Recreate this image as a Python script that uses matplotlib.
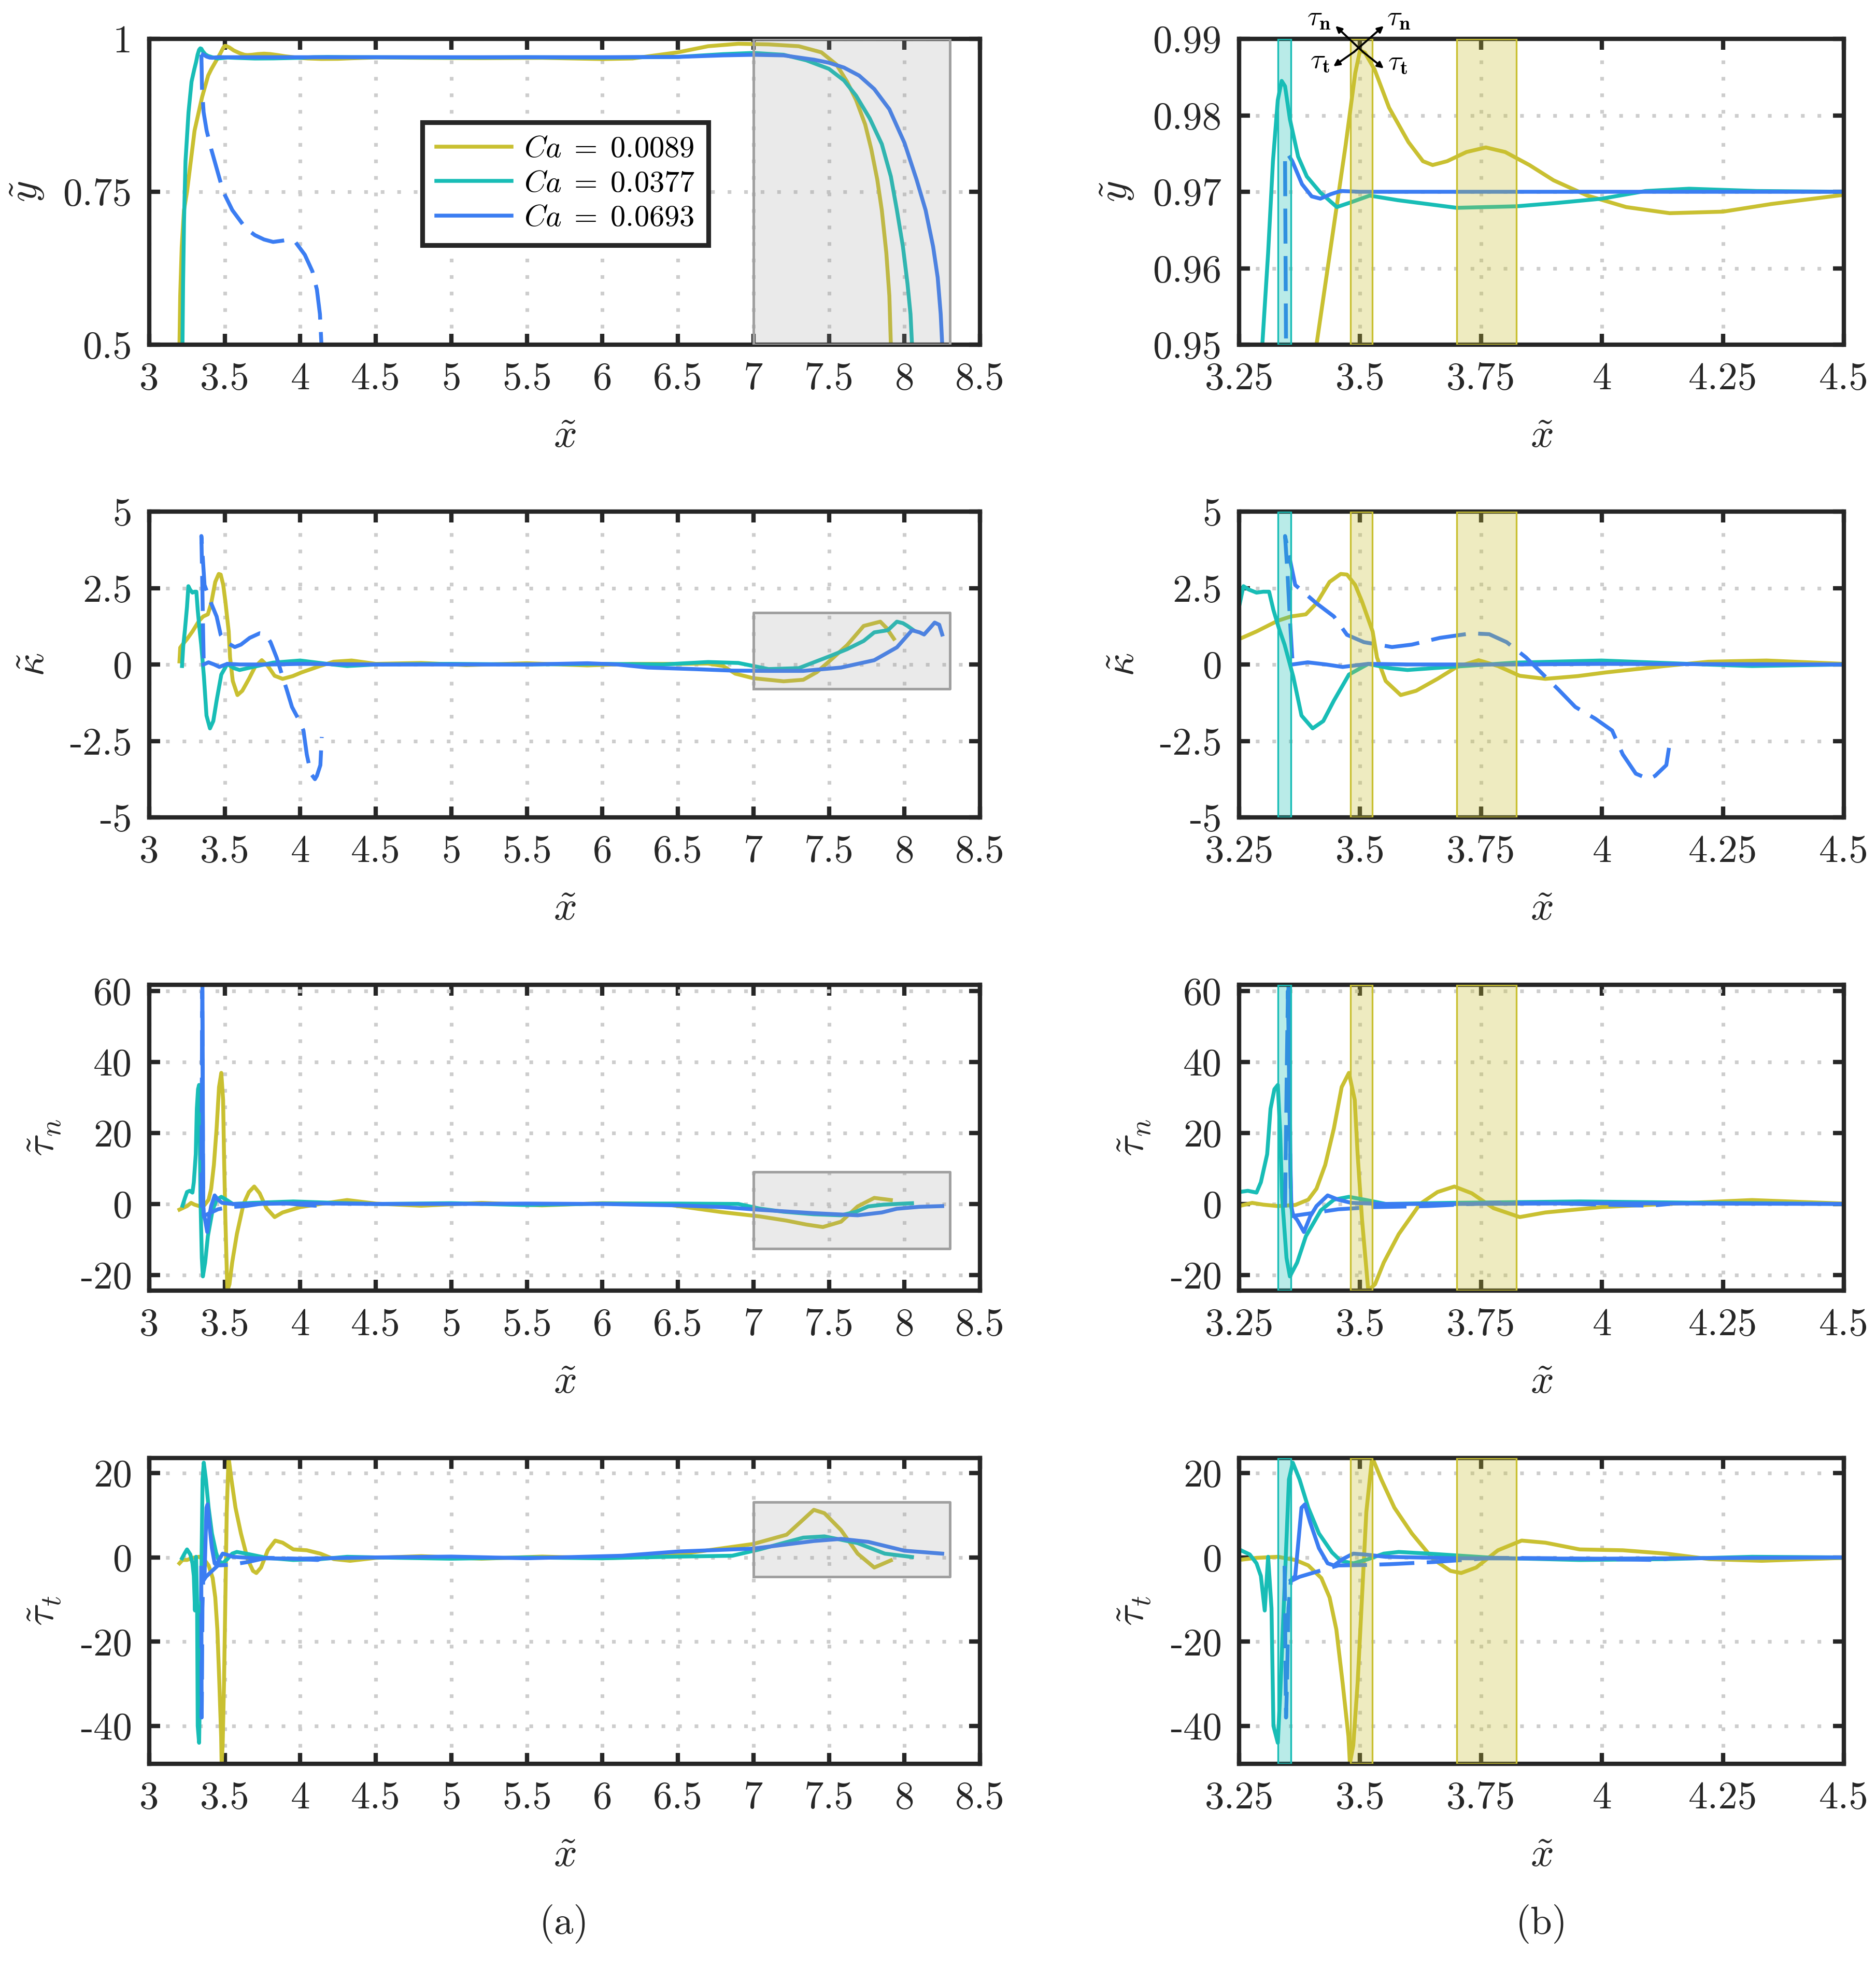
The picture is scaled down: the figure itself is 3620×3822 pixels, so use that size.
import matplotlib
matplotlib.use('Agg')
import matplotlib.pyplot as plt

plt.rcParams['font.family'] = 'serif'
plt.rcParams['font.serif'] = ['cmr10']
plt.rcParams['mathtext.fontset'] = 'cm'
plt.rcParams['axes.formatter.use_mathtext'] = True
plt.rcParams['axes.unicode_minus'] = False

# ---------------- data ----------------
ca_labels = [r'$Ca\;=\;0.0089$', r'$Ca\;=\;0.0377$', r'$Ca\;=\;0.0693$']

# interface height  y~
y_ca1_x = [3.200, 3.205, 3.215, 3.23, 3.25, 3.30, 3.35, 3.39, 3.41, 3.44, 3.47, 3.49, 3.50, 3.51, 3.53,
           3.56, 3.60, 3.63, 3.65, 3.68, 3.72, 3.76, 3.80, 3.85, 3.90, 3.97, 4.05, 4.14, 4.25, 4.35, 4.5,
           4.8, 5.2, 5.6, 6.0, 6.2, 6.5, 6.7, 6.9, 7.1, 7.3, 7.45, 7.55, 7.62, 7.68, 7.74, 7.78, 7.82,
           7.85, 7.88, 7.90, 7.91]
y_ca1 = [0.50, 0.58, 0.66, 0.72, 0.75, 0.85, 0.905, 0.94, 0.950, 0.963, 0.976, 0.9855, 0.9885, 0.9882,
         0.986, 0.981, 0.9765, 0.974, 0.9735, 0.9740, 0.9752, 0.9758, 0.9752, 0.9735, 0.9715, 0.9695,
         0.9680, 0.9672, 0.9674, 0.9684, 0.9696, 0.9690, 0.9685, 0.9690, 0.9670, 0.968, 0.978, 0.988,
         0.992, 0.991, 0.988, 0.978, 0.958, 0.93, 0.90, 0.86, 0.82, 0.77, 0.72, 0.65, 0.58, 0.50]
y_ca2_x = [3.220, 3.224, 3.23, 3.24, 3.26, 3.28, 3.298, 3.31, 3.32, 3.33, 3.338, 3.345, 3.355, 3.372,
           3.39, 3.418, 3.452, 3.48, 3.52, 3.578, 3.70, 3.823, 3.90, 4.00, 4.09, 4.18, 4.32, 4.5, 5.0,
           5.5, 6.0, 6.5, 6.8, 7.0, 7.2, 7.35, 7.5, 7.6, 7.68, 7.77, 7.85, 7.91, 7.95, 7.99, 8.02, 8.04,
           8.05]
y_ca2 = [0.50, 0.60, 0.70, 0.80, 0.88, 0.93, 0.950, 0.962, 0.974, 0.982, 0.9845, 0.9838, 0.9795, 0.9746,
         0.9720, 0.9699, 0.9680, 0.9686, 0.9695, 0.9689, 0.9679, 0.9681, 0.9685, 0.9691, 0.9701, 0.9704,
         0.9701, 0.9700, 0.9695, 0.9700, 0.9695, 0.9705, 0.975, 0.977, 0.974, 0.965, 0.951, 0.932, 0.907,
         0.87, 0.828, 0.775, 0.72, 0.66, 0.60, 0.55, 0.50]
y_ca3_x = [3.355, 3.36, 3.37, 3.38, 3.40, 3.418, 3.44, 3.46, 3.50, 3.6, 3.8, 4.0, 4.5, 5.0, 5.5, 6.0,
           6.5, 6.8, 7.0, 7.2, 7.4, 7.5, 7.6, 7.7, 7.8, 7.9, 8.0, 8.08, 8.14, 8.19, 8.22, 8.24, 8.25]
y_ca3 = [0.9745, 0.9740, 0.9725, 0.9710, 0.9694, 0.9691, 0.9697, 0.9701, 0.9700, 0.9700, 0.9700, 0.9700,
         0.9700, 0.9700, 0.9700, 0.9700, 0.9705, 0.973, 0.974, 0.973, 0.966, 0.961, 0.953, 0.94, 0.918,
         0.885, 0.83, 0.77, 0.72, 0.66, 0.61, 0.55, 0.50]
y_ca3d_x = [3.345, 3.346, 3.347, 3.349, 3.36, 3.38, 3.41, 3.45, 3.49, 3.55, 3.64, 3.70, 3.76, 3.82, 3.88,
            3.93, 3.97, 4.03, 4.08, 4.11, 4.13, 4.14]
y_ca3d = [0.974, 0.962, 0.95, 0.92, 0.88, 0.85, 0.82, 0.785, 0.75, 0.72, 0.69, 0.679, 0.672, 0.668, 0.670,
          0.672, 0.667, 0.647, 0.62, 0.59, 0.55, 0.50]

# curvature  kappa~
k_ca1_x = [3.20, 3.205, 3.22, 3.25, 3.286, 3.33, 3.357, 3.388, 3.41, 3.437, 3.46, 3.473, 3.49, 3.504,
           3.526, 3.535, 3.553, 3.584, 3.616, 3.66, 3.70, 3.745, 3.785, 3.83, 3.883, 3.95, 4.008, 4.13,
           4.22, 4.34, 4.5, 4.8, 5.1, 5.5, 5.9, 6.2, 6.5, 6.7, 6.8, 6.88, 7.0, 7.2, 7.33, 7.42, 7.51,
           7.62, 7.73, 7.80, 7.84, 7.88, 7.93]
k_ca1 = [0.1, 0.55, 0.65, 0.83, 1.08, 1.43, 1.57, 1.64, 2.0, 2.7, 2.96, 2.94, 2.6, 2.06, 1.08, 0.23,
         -0.54, -1.0, -0.86, -0.47, -0.08, 0.14, -0.05, -0.37, -0.47, -0.38, -0.26, -0.05, 0.09, 0.13,
         0.02, 0.05, -0.02, 0.04, -0.03, 0.02, 0.02, 0.03, -0.05, -0.3, -0.45, -0.55, -0.5, -0.25, 0.14,
         0.63, 1.26, 1.35, 1.4, 1.2, 0.84]
k_ca2_x = [3.217, 3.225, 3.236, 3.25, 3.259, 3.27, 3.286, 3.30, 3.312, 3.321, 3.332, 3.344, 3.362, 3.379,
           3.402, 3.424, 3.446, 3.477, 3.517, 3.56, 3.598, 3.687, 3.82, 3.999, 4.177, 4.31, 4.5, 5.0,
           5.5, 6.0, 6.4, 6.7, 6.9, 7.1, 7.3, 7.51, 7.62, 7.73, 7.8, 7.89, 7.95, 7.99, 8.02, 8.06]
k_ca2 = [-0.05, 0.6, 1.12, 1.89, 2.56, 2.45, 2.35, 2.38, 2.38, 1.78, 1.2, 0.65, -0.4, -1.67, -2.09, -1.85,
         -1.18, -0.33, 0.02, -0.12, -0.18, -0.08, 0.06, 0.13, 0.02, -0.05, 0.0, 0.02, 0.0, 0.02, 0.0,
         0.08, 0.05, -0.15, -0.12, 0.28, 0.5, 0.77, 1.05, 1.12, 1.4, 1.35, 1.26, 1.12]
k_ca3_x = [3.36, 3.392, 3.43, 3.464, 3.517, 3.6, 3.8, 4.0, 4.5, 5.0, 5.5, 5.9, 6.1, 6.3, 6.6, 6.86, 7.1,
           7.33, 7.58, 7.8, 7.95, 8.05, 8.1, 8.13, 8.17, 8.2, 8.23, 8.25]
k_ca3 = [0.0, 0.07, 0.0, -0.08, 0.02, 0.0, 0.0, 0.02, 0.0, 0.0, 0.0, 0.04, 0.0, -0.1, -0.15, -0.2, -0.21,
         -0.21, -0.1, 0.14, 0.56, 1.12, 1.05, 0.98, 1.2, 1.37, 1.3, 0.98]
k_ca3d_x = [3.36, 3.355, 3.35, 3.345, 3.366, 3.41, 3.446, 3.473, 3.508, 3.566, 3.607, 3.665, 3.731, 3.767,
            3.803, 3.843, 3.883, 3.91, 3.945, 3.986, 4.021, 4.043, 4.07, 4.097, 4.11, 4.133, 4.142]
k_ca3d = [0.2, 1.5, 3.0, 4.2, 2.6, 2.0, 1.57, 0.97, 0.73, 0.57, 0.65, 0.87, 1.02, 0.99, 0.73, 0.23, -0.4,
          -0.82, -1.39, -1.77, -2.16, -2.94, -3.57, -3.75, -3.64, -3.29, -2.37]

# normal stress  tau_n~
tn_ca1_x = [3.20, 3.22, 3.25, 3.277, 3.30, 3.33, 3.366, 3.393, 3.41, 3.428, 3.446, 3.462, 3.477, 3.489,
            3.495, 3.504, 3.517, 3.531, 3.549, 3.58, 3.624, 3.66, 3.695, 3.731, 3.776, 3.83, 3.883,
            3.999, 4.133, 4.31, 4.5, 4.8, 5.2, 5.6, 6.0, 6.4, 6.79, 7.04, 7.22, 7.35, 7.46, 7.58, 7.69,
            7.80, 7.91]
tn_ca1 = [-1.6, -1.2, -0.6, 0.3, -0.2, -0.6, -0.3, 1.2, 4.3, 11, 21.3, 32.9, 36.9, 29.3, 14, -4.3, -24.4,
          -22.6, -16.5, -8.5, 0, 3.35, 4.9, 3.0, -1.2, -3.7, -2.4, -0.9, 0, 1.1, 0.1, -0.5, 0.3, -0.4,
          0.2, 0, -2.3, -3.5, -4.7, -5.8, -6.5, -5.0, -0.7, 1.7, 1.1]
tn_ca2_x = [3.22, 3.235, 3.25, 3.268, 3.286, 3.295, 3.308, 3.315, 3.323, 3.33, 3.335, 3.339, 3.348,
            3.355, 3.37, 3.388, 3.419, 3.446, 3.477, 3.509, 3.553, 3.687, 3.954, 4.222, 4.5, 5.0, 5.5,
            6.0, 6.5, 6.9, 7.04, 7.2, 7.4, 7.58, 7.68, 7.76, 7.86, 7.95, 8.05]
tn_ca2 = [-0.5, 1.5, 3.35, 3.7, 3.2, 6.1, 14, 26.8, 32.3, 33.5, 20, 1.8, -15.2, -20.4, -16.5, -9.1, -1.8,
          1.2, 2.0, 1.2, 0, 0.3, 0.7, 0.3, 0, 0.2, -0.3, 0.1, 0.1, 0.0, -1.3, -2.2, -2.9, -3.2, -2.2,
          -0.7, -0.2, 0, 0.2]
tn_ca3_x = [3.352, 3.354, 3.356, 3.358, 3.362, 3.37, 3.384, 3.397, 3.41, 3.433, 3.455, 3.482, 3.55, 3.7,
            4.0, 4.5, 5.0, 5.5, 6.0, 6.5, 6.8, 7.04, 7.4, 7.69, 7.85, 7.95, 8.1, 8.25]
tn_ca3 = [61.5, 40, 12, -1, -3.2, -4.5, -7.9, -3.5, -0.6, 2.4, 1.2, 0.3, 0.0, 0.0, 0.2, 0.0, 0.0, 0.1,
          0.0, -0.4, -0.9, -1.65, -2.6, -3.2, -2.4, -1.35, -0.8, -0.6]
tn_ca3d_x = [3.345, 3.347, 3.349, 3.351, 3.354, 3.357, 3.36, 3.41, 3.455, 3.526, 3.64, 3.776, 3.9, 4.0,
             4.1, 4.14]
tn_ca3d = [-1, 20, 42, 60, 28, 2, -3.4, -2.4, -1.5, -0.9, -0.6, 0.3, 0.2, -0.2, -0.5, 0.0]

# tangential stress  tau_t~
tt_ca1_x = [3.20, 3.22, 3.25, 3.286, 3.33, 3.366, 3.393, 3.42, 3.437, 3.451, 3.464, 3.476, 3.479, 3.486,
            3.495, 3.504, 3.513, 3.525, 3.544, 3.571, 3.607, 3.651, 3.687, 3.709, 3.74, 3.785, 3.834,
            3.883, 3.954, 4.043, 4.133, 4.222, 4.33, 4.5, 4.8, 5.2, 5.6, 6.0, 6.4, 6.68, 7.0, 7.22, 7.33,
            7.4, 7.47, 7.58, 7.69, 7.8, 7.91]
tt_ca1 = [-1.4, -0.6, -0.6, -0.1, 0.15, -0.6, -1.9, -4.9, -9.5, -17.1, -29.8, -42.5, -48.9, -44.6, -29.8,
          -9.5, 10.8, 23.8, 18.5, 11.8, 5.7, -0.4, -3.2, -3.7, -2.4, 1.7, 4.0, 3.5, 1.9, 1.7, 0.9, -0.4,
          -0.8, -0.1, 0.3, -0.3, 0.2, -0.2, 0.3, 1.6, 3.2, 5.4, 9.0, 11.3, 10.5, 6.5, 0.9, -2.4, -0.7]
tt_ca2_x = [3.217, 3.235, 3.25, 3.272, 3.286, 3.295, 3.303, 3.31, 3.317, 3.321, 3.33, 3.335, 3.344, 3.353,
            3.361, 3.375, 3.393, 3.415, 3.442, 3.46, 3.486, 3.517, 3.549, 3.58, 3.642, 3.776, 3.954,
            4.133, 4.31, 4.5, 5.0, 5.5, 6.0, 6.5, 6.86, 7.04, 7.33, 7.47, 7.69, 7.87, 8.05]
tt_ca2 = [-0.2, 1.0, 1.9, 0.7, -1.4, -4.4, -12.6, 0.15, -12.1, -40, -44, -32.4, -7, 18.5, 22.5, 18.5, 11.8,
          5.7, 1.2, -0.8, -1.4, -0.4, 0.9, 1.3, 0.9, -0.1, -0.6, -0.4, 0.15, 0.0, -0.3, 0.0, -0.2, 0.2,
          0.4, 1.9, 4.7, 5.0, 3.4, 0.9, 0.1]
tt_ca3_x = [3.357, 3.366, 3.379, 3.386, 3.397, 3.415, 3.433, 3.446, 3.464, 3.486, 3.509, 3.553, 3.7, 4.0,
            4.5, 5.0, 5.5, 6.13, 6.5, 7.0, 7.4, 7.58, 7.76, 8.0, 8.25]
tt_ca3 = [-5.4, -4.4, 11.8, 12.6, 8.3, 2.2, -1.4, -1.9, -0.4, 0.9, 0.7, 0.15, -0.2, -0.3, 0.0, 0.2, -0.2,
          0.4, 1.4, 2.1, 3.9, 4.4, 3.7, 1.6, 0.9]
tt_ca3d_x = [3.344, 3.345, 3.346, 3.347, 3.349, 3.352, 3.357, 3.375, 3.41, 3.455, 3.509, 3.562, 3.651,
             3.776, 3.9, 4.0, 4.115, 4.14]
tt_ca3d = [-2, -12, -26, -38, -30, -12, -5.6, -4.6, -3.4, -1.9, -1.8, -1.6, -1.1, -0.1, -0.2, -0.4, -0.6,
           -0.25]

# highlighted regions
box_x = [7.0, 8.3]                       # grey box in column (a)
box_y = {'y': [0.5, 1.0], 'k': [-0.8, 1.7], 'tn': [-12.6, 9.0], 'tt': [-4.6, 13.2]}
band_cyan = [3.33, 3.357]                # bands in column (b)
bands_yellow = [[3.48, 3.525], [3.70, 3.823]]

# ---------------- style ----------------
colors = ['#C9C031', '#18BDB6', '#3B7DF2']
dark = '#262626'
lw = 1.8
fs = 18

rows = [
    ('y', r'$\tilde{y}$', (0.5, 1.0), [0.5, 0.75, 1.0], ['0.5', '0.75', '1'],
     (0.95, 0.99), [0.95, 0.96, 0.97, 0.98, 0.99], ['0.95', '0.96', '0.97', '0.98', '0.99']),
    ('k', r'$\tilde{\kappa}$', (-5, 5), [-5, -2.5, 0, 2.5, 5], ['-5', '-2.5', '0', '2.5', '5'],
     (-5, 5), [-5, -2.5, 0, 2.5, 5], ['-5', '-2.5', '0', '2.5', '5']),
    ('tn', r'$\tilde{\tau}_n$', (-24.4, 61.7), [-20, 0, 20, 40, 60], ['-20', '0', '20', '40', '60'],
     (-24.4, 61.7), [-20, 0, 20, 40, 60], ['-20', '0', '20', '40', '60']),
    ('tt', r'$\tilde{\tau}_t$', (-49, 23.6), [-40, -20, 0, 20], ['-40', '-20', '0', '20'],
     (-49, 23.6), [-40, -20, 0, 20], ['-40', '-20', '0', '20']),
]

series = {
    'y': [(y_ca1_x, y_ca1), (y_ca2_x, y_ca2), (y_ca3_x, y_ca3), (y_ca3d_x, y_ca3d)],
    'k': [(k_ca1_x, k_ca1), (k_ca2_x, k_ca2), (k_ca3_x, k_ca3), (k_ca3d_x, k_ca3d)],
    'tn': [(tn_ca1_x, tn_ca1), (tn_ca2_x, tn_ca2), (tn_ca3_x, tn_ca3), (tn_ca3d_x, tn_ca3d)],
    'tt': [(tt_ca1_x, tt_ca1), (tt_ca2_x, tt_ca2), (tt_ca3_x, tt_ca3), (tt_ca3d_x, tt_ca3d)],
}

left_xt = [3, 3.5, 4, 4.5, 5, 5.5, 6, 6.5, 7, 7.5, 8, 8.5]
left_xl = ['3', '3.5', '4', '4.5', '5', '5.5', '6', '6.5', '7', '7.5', '8', '8.5']
right_xt = [3.25, 3.5, 3.75, 4, 4.25, 4.5]
right_xl = ['3.25', '3.5', '3.75', '4', '4.25', '4.5']


def style(ax, xlim, xt, xl, ylim, yt, yl, ylabel):
    ax.set_xlim(xlim)
    ax.set_ylim(ylim)
    ax.set_xticks(xt)
    ax.set_xticklabels(xl)
    ax.set_yticks(yt)
    ax.set_yticklabels(yl)
    ax.tick_params(direction='in', length=5, width=2, top=True, right=True,
                   labelsize=fs, colors=dark, pad=8)
    for s in ax.spines.values():
        s.set_linewidth(2)
        s.set_color(dark)
    ax.grid(True, color='#cdcdcd', linestyle=(0, (1, 3.5)), linewidth=1.7)
    ax.set_axisbelow(True)
    ax.set_xlabel(r'$\tilde{x}$', fontsize=fs + 1, color=dark, labelpad=10)
    ax.set_ylabel(ylabel, fontsize=fs + 1, color=dark, labelpad=8)


def draw_lines(ax, key):
    lines = []
    for i, (xs, vs) in enumerate(series[key][:3]):
        ln, = ax.plot(xs, vs, color=colors[i], lw=lw, zorder=2)
        lines.append(ln)
    xs, vs = series[key][3]
    ax.plot(xs, vs, color=colors[2], lw=lw, dashes=(9, 3.2), zorder=2)
    return lines


W, H = 3620, 3822
fig = plt.figure(figsize=(W / 300, H / 300), dpi=300)

row_bottoms = [665, 1577, 2490, 3403]
row_h = 590
left_x0, left_w = 288, 1603
right_x0, right_w = 2391, 1167

for r, (key, ylab, lylim, lyt, lyl, rylim, ryt, ryl) in enumerate(rows):
    b = 1 - row_bottoms[r] / H
    axl = fig.add_axes([left_x0 / W, b, left_w / W, row_h / H])
    axr = fig.add_axes([right_x0 / W, b, right_w / W, row_h / H])

    lines = draw_lines(axl, key)
    style(axl, (3, 8.5), left_xt, left_xl, lylim, lyt, lyl, ylab)
    by = box_y[key]
    axl.fill_between(box_x, [by[0]] * 2, [by[1]] * 2, facecolor='#999999', alpha=0.2,
                     edgecolor='none', zorder=3)
    axl.plot([box_x[0], box_x[1], box_x[1], box_x[0], box_x[0]],
             [by[0], by[0], by[1], by[1], by[0]], color='#a0a0a0', lw=1.2, zorder=3)

    draw_lines(axr, key)
    style(axr, (3.25, 4.5), right_xt, right_xl, rylim, ryt, ryl, ylab)
    axr.axvspan(band_cyan[0], band_cyan[1], facecolor=colors[1], alpha=0.3,
                edgecolor='none', zorder=3)
    axr.axvspan(band_cyan[0], band_cyan[1], facecolor='none', edgecolor=colors[1],
                lw=0.8, zorder=3)
    for yb in bands_yellow:
        axr.axvspan(yb[0], yb[1], facecolor=colors[0], alpha=0.3, edgecolor='none', zorder=3)
        axr.axvspan(yb[0], yb[1], facecolor='none', edgecolor=colors[0], lw=0.8, zorder=3)

    if key == 'y':
        leg = axl.legend(lines, ca_labels, loc='upper left', bbox_to_anchor=(0.329, 0.727),
                         fontsize=14, frameon=True, fancybox=False, framealpha=1,
                         edgecolor=dark, borderaxespad=0, handlelength=2.5,
                         handletextpad=0.4, labelspacing=0.25, borderpad=0.45)
        leg.get_frame().set_linewidth(2.2)
        leg.set_zorder(6)

# stress direction sketch above the peak in panel (b)
def fp(px, py):
    return (px / W, 1 - py / H)

arrow_kw = dict(arrowstyle='-|>', color='black', lw=0.9, mutation_scale=6,
                shrinkA=0, shrinkB=0)
for (p0, p1) in [((2630, 100), (2577, 50)), ((2613, 100), (2670, 50)),
                 ((2613, 100), (2573, 128)), ((2630, 100), (2670, 132))]:
    fig.add_artist(matplotlib.patches.FancyArrowPatch(fp(*p0), fp(*p1),
                                                      transform=fig.transFigure, **arrow_kw))
for (px, py, s) in [(2545, 37, r'$\tau_{\mathbf{n}}$'), (2699, 37, r'$\tau_{\mathbf{n}}$'),
                    (2547, 120, r'$\tau_{\mathbf{t}}$'), (2697, 123, r'$\tau_{\mathbf{t}}$')]:
    fig.text(*fp(px, py), s, fontsize=13, ha='center', va='center')

fig.text(*fp(1089, 3712), '(a)', fontsize=fs, ha='center', va='center', color=dark)
fig.text(*fp(2975, 3712), '(b)', fontsize=fs, ha='center', va='center', color=dark)

fig.savefig('out.png', dpi=300, facecolor='white')
